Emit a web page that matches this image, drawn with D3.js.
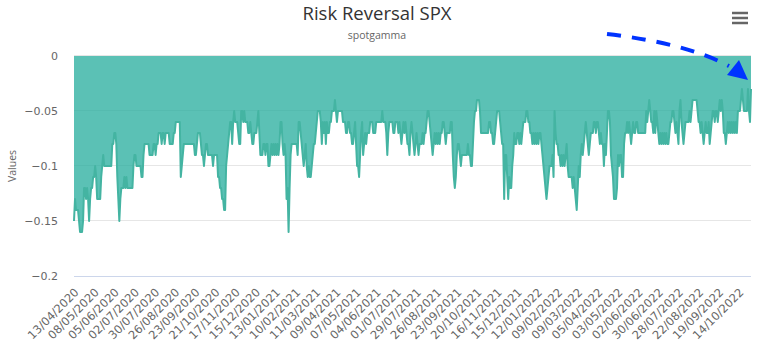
<!DOCTYPE html>
<html><head><meta charset="utf-8">
<script src="https://cdn.jsdelivr.net/npm/d3@7"></script>
<style>body{margin:0;background:#fff}svg{display:block}</style>
</head><body><div id="chart"></div>
<script>
const chartTitle = "Risk Reversal SPX";
const chartSubtitle = "spotgamma";
const yAxisTitle = "Values";
const yTicks = [0, -0.05, -0.1, -0.15, -0.2];
const xTickStep = 20;
const xTickLabels = ["13/04/2020","08/05/2020","05/06/2020","02/07/2020","30/07/2020","26/08/2020","23/09/2020","21/10/2020","17/11/2020","15/12/2020","13/01/2021","10/02/2021","11/03/2021","09/04/2021","07/05/2021","04/06/2021","01/07/2021","29/07/2021","26/08/2021","23/09/2021","20/10/2021","16/11/2021","15/12/2021","12/01/2022","09/02/2022","09/03/2022","05/04/2022","03/05/2022","02/06/2022","30/06/2022","28/07/2022","22/08/2022","19/09/2022","14/10/2022"];
const riskReversal = [
-0.15,-0.13,-0.14,-0.14,-0.14,-0.15,-0.16,-0.16,-0.16,-0.15,
-0.12,-0.12,-0.13,-0.12,-0.13,-0.15,-0.13,-0.12,-0.12,-0.11,
-0.11,-0.10,-0.11,-0.13,-0.13,-0.13,-0.13,-0.11,-0.10,-0.09,
-0.10,-0.10,-0.10,-0.10,-0.10,-0.10,-0.10,-0.10,-0.08,-0.08,
-0.07,-0.07,-0.08,-0.11,-0.13,-0.15,-0.13,-0.12,-0.12,-0.12,
-0.11,-0.12,-0.11,-0.12,-0.12,-0.12,-0.12,-0.12,-0.12,-0.10,
-0.09,-0.09,-0.10,-0.10,-0.10,-0.10,-0.10,-0.11,-0.11,-0.09,
-0.08,-0.08,-0.08,-0.08,-0.08,-0.09,-0.09,-0.09,-0.09,-0.08,
-0.08,-0.09,-0.08,-0.08,-0.07,-0.07,
-0.07,-0.08,-0.07,-0.07,-0.08,-0.07,-0.07,-0.07,-0.07,
-0.08,-0.08,-0.08,-0.08,-0.07,-0.07,-0.06,-0.06,-0.06,-0.06,
-0.06,-0.11,-0.10,-0.09,-0.08,-0.08,-0.08,-0.08,-0.08,-0.08,
-0.08,-0.08,-0.08,-0.08,-0.08,-0.09,-0.09,-0.08,-0.07,-0.07,
-0.07,-0.08,-0.09,-0.09,-0.10,-0.09,-0.08,-0.08,-0.09,-0.09,
-0.09,-0.09,-0.09,-0.10,-0.09,-0.09,-0.09,-0.09,-0.11,-0.11,
-0.12,-0.12,-0.13,-0.13,-0.14,-0.14,-0.10,-0.09,-0.08,-0.07,
-0.06,-0.06,-0.08,-0.06,-0.05,-0.06,-0.06,-0.06,-0.07,-0.08,
-0.08,-0.05,-0.05,-0.06,-0.05,-0.06,-0.06,-0.06,-0.07,-0.07,
-0.06,-0.07,-0.08,-0.08,-0.07,-0.07,-0.07,-0.06,-0.05,-0.07,
-0.09,-0.09,-0.09,-0.08,-0.08,-0.09,-0.08,-0.08,-0.10,-0.10,
-0.09,-0.08,-0.09,-0.08,-0.09,-0.08,-0.09,-0.08,-0.09,-0.08,
-0.06,-0.06,-0.08,-0.09,-0.08,-0.09,-0.13,-0.12,-0.16,-0.12,
-0.09,-0.08,-0.08,-0.08,-0.08,-0.08,-0.08,-0.09,-0.06,-0.06,
-0.07,-0.08,-0.09,-0.10,-0.09,-0.08,-0.10,-0.11,-0.10,-0.11,
-0.11,-0.10,-0.09,-0.08,-0.08,-0.07,-0.06,-0.05,-0.05,-0.05,
-0.06,-0.08,-0.06,-0.07,-0.06,-0.08,-0.06,-0.07,-0.07,-0.06,
-0.06,-0.05,-0.05,-0.05,
-0.04,-0.05,-0.06,-0.05,-0.05,-0.05,-0.05,-0.05,-0.06,-0.06,
-0.06,-0.07,-0.07,-0.06,-0.06,-0.07,-0.07,-0.08,-0.08,-0.07,
-0.06,-0.08,-0.10,-0.10,-0.11,-0.09,-0.07,-0.06,-0.09,-0.08,
-0.07,-0.08,-0.07,-0.07,-0.07,-0.06,-0.06,-0.06,-0.07,-0.07,
-0.07,-0.06,-0.06,-0.06,-0.06,-0.06,-0.06,-0.05,-0.06,-0.06,
-0.06,-0.07,-0.09,-0.07,-0.06,-0.06,-0.06,-0.06,-0.07,-0.07,
-0.06,-0.06,-0.06,-0.07,-0.06,-0.07,-0.08,-0.07,-0.06,-0.07,
-0.06,-0.07,-0.08,-0.08,-0.09,-0.07,-0.06,-0.07,-0.08,-0.09,
-0.08,-0.07,-0.08,-0.09,-0.08,-0.08,-0.08,-0.07,-0.08,-0.07,
-0.07,-0.06,-0.05,-0.05,-0.06,-0.07,-0.08,-0.09,-0.08,-0.07,
-0.08,-0.07,-0.08,-0.07,-0.08,-0.07,-0.07,-0.06,-0.06,-0.07,
-0.08,-0.07,-0.07,-0.07,-0.07,-0.06,-0.06,-0.09,-0.11,-0.12,
-0.11,-0.09,-0.08,-0.08,-0.09,-0.10,-0.09,-0.09,-0.09,-0.09,
-0.09,-0.09,-0.08,-0.09,-0.09,-0.10,-0.10,-0.08,-0.06,-0.05,
-0.05,-0.04,-0.04,-0.04,-0.05,-0.07,-0.07,-0.07,-0.07,-0.07,
-0.07,-0.07,-0.07,-0.06,-0.06,-0.07,-0.07,-0.08,-0.08,-0.07,
-0.06,-0.05,-0.05,-0.05,
-0.06,-0.07,-0.08,-0.08,-0.13,-0.09,-0.09,-0.11,-0.13,-0.11,
-0.12,-0.12,-0.10,-0.09,-0.07,-0.08,-0.08,-0.07,-0.07,-0.08,
-0.07,-0.08,-0.07,-0.06,-0.06,-0.06,-0.05,-0.05,-0.06,-0.06,
-0.07,-0.07,-0.08,-0.07,-0.08,-0.07,-0.08,-0.07,-0.08,-0.07,
-0.07,-0.08,-0.09,-0.10,-0.11,-0.12,-0.13,-0.12,-0.11,-0.10,
-0.10,-0.10,-0.09,-0.11,-0.05,-0.07,-0.08,-0.08,-0.09,-0.09,
-0.10,-0.09,-0.10,-0.09,-0.10,-0.09,-0.08,-0.10,-0.11,-0.11,
-0.11,-0.11,-0.12,-0.11,-0.12,-0.13,-0.14,-0.12,-0.10,-0.11,
-0.09,-0.08,-0.09,-0.08,-0.07,-0.06,-0.07,-0.08,-0.09,-0.08,
-0.07,-0.07,-0.07,-0.06,-0.06,-0.07,-0.06,-0.06,-0.07,-0.08,
-0.07,-0.08,-0.08,-0.10,-0.08,-0.09,-0.07,-0.05,-0.05,-0.06,
-0.09,-0.10,-0.11,-0.13,-0.13,-0.13,-0.12,-0.09,-0.10,-0.09,
-0.09,-0.11,-0.11,-0.08,-0.07,-0.07,-0.06,-0.07,-0.06,-0.07,
-0.08,-0.07,-0.06,-0.07,-0.07,-0.06,-0.06,-0.07,-0.07,-0.07,
-0.07,-0.07,-0.07,-0.07,-0.07,-0.05,-0.06,-0.05,-0.04,-0.05,
-0.06,-0.06,-0.07,-0.05,-0.07,-0.05,-0.06,-0.07,-0.08,-0.07,
-0.08,-0.07,-0.08,-0.07,-0.08,-0.07,-0.08,-0.08,-0.07,-0.06,
-0.06,
-0.05,-0.05,-0.06,-0.07,-0.06,-0.07,-0.08,-0.05,-0.04,-0.06,
-0.07,-0.08,-0.07,-0.06,-0.06,-0.06,-0.06,-0.05,-0.06,-0.05,
-0.04,-0.04,-0.04,-0.04,-0.04,-0.05,-0.06,-0.06,-0.07,-0.06,
-0.07,-0.08,-0.07,-0.06,-0.07,-0.07,-0.06,-0.08,-0.07,-0.06,
-0.05,-0.05,-0.06,-0.05,-0.05,-0.06,-0.05,-0.04,-0.05,-0.04,
-0.05,-0.07,-0.07,-0.08,-0.07,-0.06,-0.07,-0.06,-0.07,-0.06,
-0.07,-0.06,-0.07,-0.06,-0.07,-0.05,-0.05,-0.05,-0.04,-0.03,
-0.04,-0.05,-0.05,-0.05,-0.05,-0.03,-0.05,-0.06,-0.03
];

const W = 760, H = 350;
const plot = {left: 74, right: 751, top: 56, bottom: 276};
const fontMain = "'Open Sans', 'Noto Sans', sans-serif";
const fontAxis = "'DejaVu Sans', sans-serif";
const seriesColor = '#24ac9c';

const svg = d3.select('#chart').append('svg').attr('width', W).attr('height', H);

const x = d3.scaleLinear().domain([0, riskReversal.length - 1]).range([plot.left, plot.right]);
const y = d3.scaleLinear().domain([-0.2, 0]).range([plot.bottom, plot.top]);

// grid lines (under the semi-transparent area)
svg.append('g').selectAll('line').data(yTicks.filter(t => t !== -0.2)).join('line')
  .attr('x1', plot.left).attr('x2', plot.right)
  .attr('y1', d => Math.round(y(d)) - 0.5).attr('y2', d => Math.round(y(d)) - 0.5)
  .attr('stroke', '#e6e6e6').attr('stroke-width', 1);

// area + line
const area = d3.area().x((d, i) => x(i)).y0(y(0)).y1(d => y(d));
const line = d3.line().x((d, i) => x(i)).y(d => y(d));
svg.append('path').datum(riskReversal).attr('d', area)
  .attr('fill', seriesColor).attr('fill-opacity', 0.75);
svg.append('path').datum(riskReversal).attr('d', line)
  .attr('fill', 'none').attr('stroke', '#44b4a2').attr('stroke-width', 2)
  .attr('stroke-linejoin', 'round');

// y axis
const yAxis = svg.append('g').attr('transform', `translate(${plot.left - 16},0)`)
  .call(d3.axisLeft(y).tickValues(yTicks).tickFormat(d3.format('')).tickSize(0).tickPadding(0));
yAxis.select('.domain').remove();
yAxis.selectAll('text').attr('fill', '#666').attr('font-size', 11).attr('font-family', fontAxis);

// x axis
const xAxis = svg.append('g').attr('transform', `translate(0,${plot.bottom})`)
  .call(d3.axisBottom(x).tickValues(xTickLabels.map((_, i) => i * xTickStep))
    .tickFormat((d, i) => xTickLabels[i]).tickSize(0).tickPadding(0));
xAxis.select('.domain').attr('stroke', '#ccd6eb').attr('d', `M${plot.left},0.5H${plot.right}`);
xAxis.selectAll('text')
  .attr('fill', '#666').attr('font-size', 11.5).attr('font-family', fontAxis)
  .attr('text-anchor', 'end').attr('dy', 0)
  .attr('transform', 'translate(5,17) rotate(-45)');

// titles
svg.append('text').attr('x', 377).attr('y', 20).attr('text-anchor', 'middle')
  .attr('font-family', fontMain).attr('font-size', 18.5).attr('fill', '#333').text(chartTitle);
svg.append('text').attr('x', 377).attr('y', 39).attr('text-anchor', 'middle')
  .attr('font-family', fontMain).attr('font-size', 10.5).attr('fill', '#666').text(chartSubtitle);
svg.append('text').attr('transform', `translate(16,${(plot.top + plot.bottom) / 2}) rotate(-90)`)
  .attr('text-anchor', 'middle').attr('font-family', fontMain).attr('font-size', 10.5)
  .attr('fill', '#666').text(yAxisTitle);

// context menu icon
svg.append('g').selectAll('line').data([13, 18, 23]).join('line')
  .attr('x1', 732).attr('x2', 748).attr('y1', d => d).attr('y2', d => d)
  .attr('stroke', '#666').attr('stroke-width', 2.5);

// blue dashed annotation arrow
svg.append('path').attr('d', 'M607,34 Q685,43 729,66')
  .attr('fill', 'none').attr('stroke', '#0033ff').attr('stroke-width', 4)
  .attr('stroke-dasharray', '14 11');
svg.append('path').attr('d', 'M727,75 L739,60 L748,80 Z').attr('fill', '#0033ff');
</script>
</body></html>
